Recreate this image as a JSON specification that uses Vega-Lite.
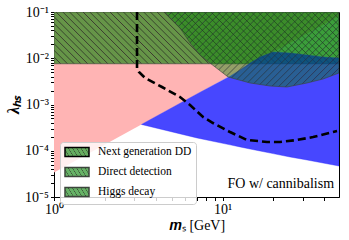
{
  "$schema": "https://vega.github.io/schema/vega-lite/v6.json",
  "width": 285,
  "height": 185,
  "autosize": {"type": "none"},
  "padding": {"left": 54, "top": 12, "right": 10, "bottom": 43},
  "background": "white",
  "config": {"view": {"stroke": "black", "strokeWidth": 1}, "font": "Liberation Serif"},
  "datasets": {
    "pink": [
      {"m": 1, "lo": 0.000034, "hi": 0.1},
      {"m": 49, "lo": 0.0816, "hi": 0.1}
    ],
    "blue": [
      {"m": 3.3, "lo": 0.00037, "hi": 0.00037},
      {"m": 7.05, "lo": 0.000189, "hi": 0.00169},
      {"m": 11.07, "lo": 0.000134, "hi": 0.0041},
      {"m": 12.68, "lo": 0.000121, "hi": 0.00557},
      {"m": 14.54, "lo": 0.000109, "hi": 0.00788},
      {"m": 16.66, "lo": 0.0000988, "hi": 0.01064},
      {"m": 19.9, "lo": 0.0000867, "hi": 0.01365},
      {"m": 25.1, "lo": 0.0000733, "hi": 0.013},
      {"m": 31.67, "lo": 0.0000631, "hi": 0.01175},
      {"m": 39.4, "lo": 0.0000543, "hi": 0.01064},
      {"m": 49, "lo": 0.0000468, "hi": 0.0101}
    ],
    "dd": [
      {"m": 4.55, "lo": 0.1, "hi": 0.1, "series": "Direct detection"},
      {"m": 4.88, "lo": 0.0742, "hi": 0.1, "series": "Direct detection"},
      {"m": 5.59, "lo": 0.0451, "hi": 0.1, "series": "Direct detection"},
      {"m": 6.41, "lo": 0.0214, "hi": 0.1, "series": "Direct detection"},
      {"m": 7.34, "lo": 0.01175, "hi": 0.1, "series": "Direct detection"},
      {"m": 8.42, "lo": 0.00788, "hi": 0.1, "series": "Direct detection"},
      {"m": 10.77, "lo": 0.00394, "hi": 0.1, "series": "Direct detection"},
      {"m": 14.54, "lo": 0.00292, "hi": 0.1, "series": "Direct detection"},
      {"m": 19.1, "lo": 0.00251, "hi": 0.1, "series": "Direct detection"},
      {"m": 24.1, "lo": 0.00239, "hi": 0.1, "series": "Direct detection"},
      {"m": 31.67, "lo": 0.00292, "hi": 0.1, "series": "Direct detection"},
      {"m": 39.4, "lo": 0.00356, "hi": 0.1, "series": "Direct detection"},
      {"m": 49, "lo": 0.0048, "hi": 0.1, "series": "Direct detection"}
    ],
    "higgs": [
      {"m": 1, "lo": 0.0076, "hi": 0.1, "series": "Higgs decay"},
      {"m": 49, "lo": 0.0076, "hi": 0.1, "series": "Higgs decay"}
    ],
    "nextdd": [
      {"i": 0, "m": 3.107, "lo": 0.1, "series": "Next generation DD"},
      {"i": 1, "m": 3.107, "lo": 0.00615, "series": "Next generation DD"},
      {"i": 2, "m": 3.19, "lo": 0.00505, "series": "Next generation DD"},
      {"i": 3, "m": 3.47, "lo": 0.00374, "series": "Next generation DD"},
      {"i": 4, "m": 4.37, "lo": 0.00239, "series": "Next generation DD"},
      {"i": 5, "m": 5.59, "lo": 0.00145, "series": "Next generation DD"},
      {"i": 6, "m": 6.41, "lo": 0.000975, "series": "Next generation DD"},
      {"i": 7, "m": 7.65, "lo": 0.000537, "series": "Next generation DD"},
      {"i": 8, "m": 8.77, "lo": 0.000398, "series": "Next generation DD"},
      {"i": 9, "m": 11.07, "lo": 0.000254, "series": "Next generation DD"},
      {"i": 10, "m": 13.95, "lo": 0.000171, "series": "Next generation DD"},
      {"i": 11, "m": 18.34, "lo": 0.000155, "series": "Next generation DD"},
      {"i": 12, "m": 21.9, "lo": 0.000155, "series": "Next generation DD"},
      {"i": 13, "m": 27.6, "lo": 0.000171, "series": "Next generation DD"},
      {"i": 14, "m": 34.4, "lo": 0.000198, "series": "Next generation DD"},
      {"i": 15, "m": 47.7, "lo": 0.000267, "series": "Next generation DD"}
    ]
  },
  "layer": [
    {
      "data": {"name": "pink"},
      "mark": {"type": "area", "fill": "#ffb4b4", "clip": true},
      "encoding": {
        "x": {
          "field": "m", "type": "quantitative",
          "scale": {"type": "log", "domain": [1, 49], "nice": false},
          "axis": {
            "values": [1, 2, 3, 4, 5, 6, 7, 8, 9, 10, 20, 30, 40],
            "labelExpr": "datum.value == 1 ? '10⁰' : datum.value == 10 ? '10¹' : ''",
            "title": "𝒎ₛ [GeV]",
            "grid": false,
            "domainColor": "black", "tickColor": "black", "labelColor": "black", "titleColor": "black",
            "labelFont": "Liberation Serif", "labelFontSize": 14,
            "titleFont": "Liberation Serif", "titleFontSize": 14, "titleFontWeight": "normal",
            "tickSize": 3.5, "labelPadding": 2, "titlePadding": 2,
            "labelOverlap": false, "labelFlush": false, "labelBound": false,
            "encode": {"ticks": {"y2": {"value": {"expr": "(datum.value == 1 || datum.value == 10) ? 3.5 : 2"}}}}
          }
        },
        "y": {
          "field": "lo", "type": "quantitative",
          "scale": {"type": "log", "domain": [0.00001, 0.1], "nice": false},
          "axis": {
            "values": [0.00001, 0.00002, 0.00003, 0.00004, 0.00005, 0.00006, 0.00007, 0.00008, 0.00009,
                       0.0001, 0.0002, 0.0003, 0.0004, 0.0005, 0.0006, 0.0007, 0.0008, 0.0009,
                       0.001, 0.002, 0.003, 0.004, 0.005, 0.006, 0.007, 0.008, 0.009,
                       0.01, 0.02, 0.03, 0.04, 0.05, 0.06, 0.07, 0.08, 0.09, 0.1],
            "labelExpr": "datum.value == 0.1 ? '10⁻¹' : datum.value == 0.01 ? '10⁻²' : datum.value == 0.001 ? '10⁻³' : datum.value == 0.0001 ? '10⁻⁴' : datum.value == 0.00001 ? '10⁻⁵' : ''",
            "title": "λₕₛ",
            "grid": false,
            "domainColor": "black", "tickColor": "black", "labelColor": "black", "titleColor": "black",
            "labelFont": "Liberation Serif", "labelFontSize": 14,
            "titleFont": "Liberation Serif", "titleFontSize": 16, "titleFontWeight": "bold", "titleFontStyle": "italic",
            "tickSize": 3.5, "labelPadding": 2, "titlePadding": 3,
            "labelOverlap": false, "labelFlush": false, "labelBound": false,
            "encode": {"ticks": {"x2": {"value": {"expr": "(datum.value == 0.1 || datum.value == 0.01 || datum.value == 0.001 || datum.value == 0.0001 || datum.value == 0.00001) ? -3.5 : -2"}}}}
          }
        },
        "y2": {"field": "hi"}
      }
    },
    {
      "data": {"name": "higgs"},
      "mark": {
        "type": "area", "strokeWidth": 0.8, "strokeOpacity": 0.8, "clip": true,
        "fill": {
          "gradient": "linear", "x1": 0, "y1": 1, "x2": 1.144, "y2": 0.792,
          "stops": [
            {"offset": 0, "color": "rgba(0,128,0,0.6)"},
            {"offset": 0.017, "color": "rgba(0,128,0,0.6)"}, {"offset": 0.02, "color": "rgba(40,45,35,0.9)"}, {"offset": 0.023, "color": "rgba(0,128,0,0.6)"},
            {"offset": 0.037, "color": "rgba(0,128,0,0.6)"}, {"offset": 0.04, "color": "rgba(40,45,35,0.9)"}, {"offset": 0.043, "color": "rgba(0,128,0,0.6)"},
            {"offset": 0.057, "color": "rgba(0,128,0,0.6)"}, {"offset": 0.06, "color": "rgba(40,45,35,0.9)"}, {"offset": 0.063, "color": "rgba(0,128,0,0.6)"},
            {"offset": 0.077, "color": "rgba(0,128,0,0.6)"}, {"offset": 0.08, "color": "rgba(40,45,35,0.9)"}, {"offset": 0.083, "color": "rgba(0,128,0,0.6)"},
            {"offset": 0.097, "color": "rgba(0,128,0,0.6)"}, {"offset": 0.1, "color": "rgba(40,45,35,0.9)"}, {"offset": 0.103, "color": "rgba(0,128,0,0.6)"},
            {"offset": 0.117, "color": "rgba(0,128,0,0.6)"}, {"offset": 0.12, "color": "rgba(40,45,35,0.9)"}, {"offset": 0.123, "color": "rgba(0,128,0,0.6)"},
            {"offset": 0.137, "color": "rgba(0,128,0,0.6)"}, {"offset": 0.14, "color": "rgba(40,45,35,0.9)"}, {"offset": 0.143, "color": "rgba(0,128,0,0.6)"},
            {"offset": 0.157, "color": "rgba(0,128,0,0.6)"}, {"offset": 0.16, "color": "rgba(40,45,35,0.9)"}, {"offset": 0.163, "color": "rgba(0,128,0,0.6)"},
            {"offset": 0.177, "color": "rgba(0,128,0,0.6)"}, {"offset": 0.18, "color": "rgba(40,45,35,0.9)"}, {"offset": 0.183, "color": "rgba(0,128,0,0.6)"},
            {"offset": 0.197, "color": "rgba(0,128,0,0.6)"}, {"offset": 0.2, "color": "rgba(40,45,35,0.9)"}, {"offset": 0.203, "color": "rgba(0,128,0,0.6)"},
            {"offset": 0.217, "color": "rgba(0,128,0,0.6)"}, {"offset": 0.22, "color": "rgba(40,45,35,0.9)"}, {"offset": 0.223, "color": "rgba(0,128,0,0.6)"},
            {"offset": 0.237, "color": "rgba(0,128,0,0.6)"}, {"offset": 0.24, "color": "rgba(40,45,35,0.9)"}, {"offset": 0.243, "color": "rgba(0,128,0,0.6)"},
            {"offset": 0.257, "color": "rgba(0,128,0,0.6)"}, {"offset": 0.26, "color": "rgba(40,45,35,0.9)"}, {"offset": 0.263, "color": "rgba(0,128,0,0.6)"},
            {"offset": 0.277, "color": "rgba(0,128,0,0.6)"}, {"offset": 0.28, "color": "rgba(40,45,35,0.9)"}, {"offset": 0.283, "color": "rgba(0,128,0,0.6)"},
            {"offset": 0.297, "color": "rgba(0,128,0,0.6)"}, {"offset": 0.3, "color": "rgba(40,45,35,0.9)"}, {"offset": 0.303, "color": "rgba(0,128,0,0.6)"},
            {"offset": 0.317, "color": "rgba(0,128,0,0.6)"}, {"offset": 0.32, "color": "rgba(40,45,35,0.9)"}, {"offset": 0.323, "color": "rgba(0,128,0,0.6)"},
            {"offset": 0.337, "color": "rgba(0,128,0,0.6)"}, {"offset": 0.34, "color": "rgba(40,45,35,0.9)"}, {"offset": 0.343, "color": "rgba(0,128,0,0.6)"},
            {"offset": 0.357, "color": "rgba(0,128,0,0.6)"}, {"offset": 0.36, "color": "rgba(40,45,35,0.9)"}, {"offset": 0.363, "color": "rgba(0,128,0,0.6)"},
            {"offset": 0.377, "color": "rgba(0,128,0,0.6)"}, {"offset": 0.38, "color": "rgba(40,45,35,0.9)"}, {"offset": 0.383, "color": "rgba(0,128,0,0.6)"},
            {"offset": 0.397, "color": "rgba(0,128,0,0.6)"}, {"offset": 0.4, "color": "rgba(40,45,35,0.9)"}, {"offset": 0.403, "color": "rgba(0,128,0,0.6)"},
            {"offset": 0.417, "color": "rgba(0,128,0,0.6)"}, {"offset": 0.42, "color": "rgba(40,45,35,0.9)"}, {"offset": 0.423, "color": "rgba(0,128,0,0.6)"},
            {"offset": 0.437, "color": "rgba(0,128,0,0.6)"}, {"offset": 0.44, "color": "rgba(40,45,35,0.9)"}, {"offset": 0.443, "color": "rgba(0,128,0,0.6)"},
            {"offset": 0.457, "color": "rgba(0,128,0,0.6)"}, {"offset": 0.46, "color": "rgba(40,45,35,0.9)"}, {"offset": 0.463, "color": "rgba(0,128,0,0.6)"},
            {"offset": 0.477, "color": "rgba(0,128,0,0.6)"}, {"offset": 0.48, "color": "rgba(40,45,35,0.9)"}, {"offset": 0.483, "color": "rgba(0,128,0,0.6)"},
            {"offset": 0.497, "color": "rgba(0,128,0,0.6)"}, {"offset": 0.5, "color": "rgba(40,45,35,0.9)"}, {"offset": 0.503, "color": "rgba(0,128,0,0.6)"},
            {"offset": 0.517, "color": "rgba(0,128,0,0.6)"}, {"offset": 0.52, "color": "rgba(40,45,35,0.9)"}, {"offset": 0.523, "color": "rgba(0,128,0,0.6)"},
            {"offset": 0.537, "color": "rgba(0,128,0,0.6)"}, {"offset": 0.54, "color": "rgba(40,45,35,0.9)"}, {"offset": 0.543, "color": "rgba(0,128,0,0.6)"},
            {"offset": 0.557, "color": "rgba(0,128,0,0.6)"}, {"offset": 0.56, "color": "rgba(40,45,35,0.9)"}, {"offset": 0.563, "color": "rgba(0,128,0,0.6)"},
            {"offset": 0.577, "color": "rgba(0,128,0,0.6)"}, {"offset": 0.58, "color": "rgba(40,45,35,0.9)"}, {"offset": 0.583, "color": "rgba(0,128,0,0.6)"},
            {"offset": 0.597, "color": "rgba(0,128,0,0.6)"}, {"offset": 0.6, "color": "rgba(40,45,35,0.9)"}, {"offset": 0.603, "color": "rgba(0,128,0,0.6)"},
            {"offset": 0.617, "color": "rgba(0,128,0,0.6)"}, {"offset": 0.62, "color": "rgba(40,45,35,0.9)"}, {"offset": 0.623, "color": "rgba(0,128,0,0.6)"},
            {"offset": 0.637, "color": "rgba(0,128,0,0.6)"}, {"offset": 0.64, "color": "rgba(40,45,35,0.9)"}, {"offset": 0.643, "color": "rgba(0,128,0,0.6)"},
            {"offset": 0.657, "color": "rgba(0,128,0,0.6)"}, {"offset": 0.66, "color": "rgba(40,45,35,0.9)"}, {"offset": 0.663, "color": "rgba(0,128,0,0.6)"},
            {"offset": 0.677, "color": "rgba(0,128,0,0.6)"}, {"offset": 0.68, "color": "rgba(40,45,35,0.9)"}, {"offset": 0.683, "color": "rgba(0,128,0,0.6)"},
            {"offset": 0.697, "color": "rgba(0,128,0,0.6)"}, {"offset": 0.7, "color": "rgba(40,45,35,0.9)"}, {"offset": 0.703, "color": "rgba(0,128,0,0.6)"},
            {"offset": 0.717, "color": "rgba(0,128,0,0.6)"}, {"offset": 0.72, "color": "rgba(40,45,35,0.9)"}, {"offset": 0.723, "color": "rgba(0,128,0,0.6)"},
            {"offset": 0.737, "color": "rgba(0,128,0,0.6)"}, {"offset": 0.74, "color": "rgba(40,45,35,0.9)"}, {"offset": 0.743, "color": "rgba(0,128,0,0.6)"},
            {"offset": 0.757, "color": "rgba(0,128,0,0.6)"}, {"offset": 0.76, "color": "rgba(40,45,35,0.9)"}, {"offset": 0.763, "color": "rgba(0,128,0,0.6)"},
            {"offset": 0.777, "color": "rgba(0,128,0,0.6)"}, {"offset": 0.78, "color": "rgba(40,45,35,0.9)"}, {"offset": 0.783, "color": "rgba(0,128,0,0.6)"},
            {"offset": 0.797, "color": "rgba(0,128,0,0.6)"}, {"offset": 0.8, "color": "rgba(40,45,35,0.9)"}, {"offset": 0.803, "color": "rgba(0,128,0,0.6)"},
            {"offset": 0.817, "color": "rgba(0,128,0,0.6)"}, {"offset": 0.82, "color": "rgba(40,45,35,0.9)"}, {"offset": 0.823, "color": "rgba(0,128,0,0.6)"},
            {"offset": 0.837, "color": "rgba(0,128,0,0.6)"}, {"offset": 0.84, "color": "rgba(40,45,35,0.9)"}, {"offset": 0.843, "color": "rgba(0,128,0,0.6)"},
            {"offset": 0.857, "color": "rgba(0,128,0,0.6)"}, {"offset": 0.86, "color": "rgba(40,45,35,0.9)"}, {"offset": 0.863, "color": "rgba(0,128,0,0.6)"},
            {"offset": 0.877, "color": "rgba(0,128,0,0.6)"}, {"offset": 0.88, "color": "rgba(40,45,35,0.9)"}, {"offset": 0.883, "color": "rgba(0,128,0,0.6)"},
            {"offset": 0.897, "color": "rgba(0,128,0,0.6)"}, {"offset": 0.9, "color": "rgba(40,45,35,0.9)"}, {"offset": 0.903, "color": "rgba(0,128,0,0.6)"},
            {"offset": 0.917, "color": "rgba(0,128,0,0.6)"}, {"offset": 0.92, "color": "rgba(40,45,35,0.9)"}, {"offset": 0.923, "color": "rgba(0,128,0,0.6)"},
            {"offset": 0.937, "color": "rgba(0,128,0,0.6)"}, {"offset": 0.94, "color": "rgba(40,45,35,0.9)"}, {"offset": 0.943, "color": "rgba(0,128,0,0.6)"},
            {"offset": 0.957, "color": "rgba(0,128,0,0.6)"}, {"offset": 0.96, "color": "rgba(40,45,35,0.9)"}, {"offset": 0.963, "color": "rgba(0,128,0,0.6)"},
            {"offset": 0.977, "color": "rgba(0,128,0,0.6)"}, {"offset": 0.98, "color": "rgba(40,45,35,0.9)"}, {"offset": 0.983, "color": "rgba(0,128,0,0.6)"},
            {"offset": 1, "color": "rgba(0,128,0,0.6)"}
          ]
        }
      },
      "encoding": {
        "x": {"field": "m", "type": "quantitative", "scale": {"type": "log", "domain": [1, 49], "nice": false}},
        "y": {"field": "lo", "type": "quantitative", "scale": {"type": "log", "domain": [0.00001, 0.1], "nice": false}},
        "y2": {"field": "hi"},
        "stroke": {
          "field": "series", "type": "nominal",
          "scale": {"domain": ["Next generation DD", "Direct detection", "Higgs decay"], "range": ["black", "#3c463c", "#3c463c"]},
          "legend": {
            "orient": "none", "legendX": 6, "legendY": 130, "direction": "vertical",
            "title": null, "padding": 4,
            "fillColor": "rgba(255,255,255,0.8)", "strokeColor": "#cccccc", "cornerRadius": 3,
            "labelFont": "Liberation Serif", "labelFontSize": 11.5, "labelColor": "black",
            "symbolSize": 100, "rowPadding": 4, "labelOffset": 22,
            "symbolType": "M-1,-0.9H3.8V0.9H-1Z",
            "encode": {
              "symbols": {
                "shape": {"value": {"expr": "datum.index == 0 ? 'M-1,0H3.8' : 'M-1,-0.9H3.8V0.9H-1Z'"}},
                "fill": {"value": {"expr": "datum.index == 0 ? 'transparent' : 'rgba(0,128,0,0.55)'"}},
                "stroke": {"value": {"expr": "datum.index == 0 ? 'black' : '#555555'"}},
                "strokeWidth": {"value": {"expr": "datum.index == 0 ? 2.6 : 1"}},
                "strokeDash": {"value": {"expr": "datum.index == 0 ? [6,3] : [1,0]"}},
                "size": {"value": 100},
                "opacity": {"value": 1}
              }
            }
          }
        }
      }
    },
    {
      "data": {"name": "blue"},
      "mark": {"type": "area", "fill": "#0000ff", "fillOpacity": 0.72, "stroke": "#2020ff", "strokeOpacity": 0.6, "strokeWidth": 0.6, "clip": true},
      "encoding": {
        "x": {"field": "m", "type": "quantitative", "scale": {"type": "log", "domain": [1, 49], "nice": false}},
        "y": {"field": "lo", "type": "quantitative", "scale": {"type": "log", "domain": [0.00001, 0.1], "nice": false}},
        "y2": {"field": "hi"}
      }
    },
    {
      "data": {"name": "dd"},
      "mark": {
        "type": "area", "strokeWidth": 0.8, "strokeOpacity": 0.8, "clip": true,
        "fill": {
          "gradient": "linear", "x1": 0, "y1": 0, "x2": 1.2068, "y2": 0.5202,
          "stops": [
            {"offset": 0, "color": "rgba(0,128,0,0.42)"},
            {"offset": 0.024, "color": "rgba(0,128,0,0.42)"}, {"offset": 0.028, "color": "rgba(40,45,55,0.8)"}, {"offset": 0.032, "color": "rgba(0,128,0,0.42)"},
            {"offset": 0.052, "color": "rgba(0,128,0,0.42)"}, {"offset": 0.056, "color": "rgba(40,45,55,0.8)"}, {"offset": 0.06, "color": "rgba(0,128,0,0.42)"},
            {"offset": 0.08, "color": "rgba(0,128,0,0.42)"}, {"offset": 0.084, "color": "rgba(40,45,55,0.8)"}, {"offset": 0.088, "color": "rgba(0,128,0,0.42)"},
            {"offset": 0.108, "color": "rgba(0,128,0,0.42)"}, {"offset": 0.112, "color": "rgba(40,45,55,0.8)"}, {"offset": 0.116, "color": "rgba(0,128,0,0.42)"},
            {"offset": 0.136, "color": "rgba(0,128,0,0.42)"}, {"offset": 0.14, "color": "rgba(40,45,55,0.8)"}, {"offset": 0.144, "color": "rgba(0,128,0,0.42)"},
            {"offset": 0.164, "color": "rgba(0,128,0,0.42)"}, {"offset": 0.168, "color": "rgba(40,45,55,0.8)"}, {"offset": 0.172, "color": "rgba(0,128,0,0.42)"},
            {"offset": 0.192, "color": "rgba(0,128,0,0.42)"}, {"offset": 0.196, "color": "rgba(40,45,55,0.8)"}, {"offset": 0.2, "color": "rgba(0,128,0,0.42)"},
            {"offset": 0.22, "color": "rgba(0,128,0,0.42)"}, {"offset": 0.224, "color": "rgba(40,45,55,0.8)"}, {"offset": 0.228, "color": "rgba(0,128,0,0.42)"},
            {"offset": 0.248, "color": "rgba(0,128,0,0.42)"}, {"offset": 0.252, "color": "rgba(40,45,55,0.8)"}, {"offset": 0.256, "color": "rgba(0,128,0,0.42)"},
            {"offset": 0.276, "color": "rgba(0,128,0,0.42)"}, {"offset": 0.28, "color": "rgba(40,45,55,0.8)"}, {"offset": 0.284, "color": "rgba(0,128,0,0.42)"},
            {"offset": 0.304, "color": "rgba(0,128,0,0.42)"}, {"offset": 0.308, "color": "rgba(40,45,55,0.8)"}, {"offset": 0.312, "color": "rgba(0,128,0,0.42)"},
            {"offset": 0.332, "color": "rgba(0,128,0,0.42)"}, {"offset": 0.336, "color": "rgba(40,45,55,0.8)"}, {"offset": 0.34, "color": "rgba(0,128,0,0.42)"},
            {"offset": 0.36, "color": "rgba(0,128,0,0.42)"}, {"offset": 0.364, "color": "rgba(40,45,55,0.8)"}, {"offset": 0.368, "color": "rgba(0,128,0,0.42)"},
            {"offset": 0.388, "color": "rgba(0,128,0,0.42)"}, {"offset": 0.392, "color": "rgba(40,45,55,0.8)"}, {"offset": 0.396, "color": "rgba(0,128,0,0.42)"},
            {"offset": 0.416, "color": "rgba(0,128,0,0.42)"}, {"offset": 0.42, "color": "rgba(40,45,55,0.8)"}, {"offset": 0.424, "color": "rgba(0,128,0,0.42)"},
            {"offset": 0.444, "color": "rgba(0,128,0,0.42)"}, {"offset": 0.448, "color": "rgba(40,45,55,0.8)"}, {"offset": 0.452, "color": "rgba(0,128,0,0.42)"},
            {"offset": 0.472, "color": "rgba(0,128,0,0.42)"}, {"offset": 0.476, "color": "rgba(40,45,55,0.8)"}, {"offset": 0.48, "color": "rgba(0,128,0,0.42)"},
            {"offset": 0.5, "color": "rgba(0,128,0,0.42)"}, {"offset": 0.504, "color": "rgba(40,45,55,0.8)"}, {"offset": 0.508, "color": "rgba(0,128,0,0.42)"},
            {"offset": 0.528, "color": "rgba(0,128,0,0.42)"}, {"offset": 0.532, "color": "rgba(40,45,55,0.8)"}, {"offset": 0.536, "color": "rgba(0,128,0,0.42)"},
            {"offset": 0.556, "color": "rgba(0,128,0,0.42)"}, {"offset": 0.56, "color": "rgba(40,45,55,0.8)"}, {"offset": 0.564, "color": "rgba(0,128,0,0.42)"},
            {"offset": 0.584, "color": "rgba(0,128,0,0.42)"}, {"offset": 0.588, "color": "rgba(40,45,55,0.8)"}, {"offset": 0.592, "color": "rgba(0,128,0,0.42)"},
            {"offset": 0.612, "color": "rgba(0,128,0,0.42)"}, {"offset": 0.616, "color": "rgba(40,45,55,0.8)"}, {"offset": 0.62, "color": "rgba(0,128,0,0.42)"},
            {"offset": 0.64, "color": "rgba(0,128,0,0.42)"}, {"offset": 0.644, "color": "rgba(40,45,55,0.8)"}, {"offset": 0.648, "color": "rgba(0,128,0,0.42)"},
            {"offset": 0.668, "color": "rgba(0,128,0,0.42)"}, {"offset": 0.672, "color": "rgba(40,45,55,0.8)"}, {"offset": 0.676, "color": "rgba(0,128,0,0.42)"},
            {"offset": 0.696, "color": "rgba(0,128,0,0.42)"}, {"offset": 0.7, "color": "rgba(40,45,55,0.8)"}, {"offset": 0.704, "color": "rgba(0,128,0,0.42)"},
            {"offset": 0.724, "color": "rgba(0,128,0,0.42)"}, {"offset": 0.728, "color": "rgba(40,45,55,0.8)"}, {"offset": 0.732, "color": "rgba(0,128,0,0.42)"},
            {"offset": 0.752, "color": "rgba(0,128,0,0.42)"}, {"offset": 0.756, "color": "rgba(40,45,55,0.8)"}, {"offset": 0.76, "color": "rgba(0,128,0,0.42)"},
            {"offset": 0.78, "color": "rgba(0,128,0,0.42)"}, {"offset": 0.784, "color": "rgba(40,45,55,0.8)"}, {"offset": 0.788, "color": "rgba(0,128,0,0.42)"},
            {"offset": 0.808, "color": "rgba(0,128,0,0.42)"}, {"offset": 0.812, "color": "rgba(40,45,55,0.8)"}, {"offset": 0.816, "color": "rgba(0,128,0,0.42)"},
            {"offset": 0.836, "color": "rgba(0,128,0,0.42)"}, {"offset": 0.84, "color": "rgba(40,45,55,0.8)"}, {"offset": 0.844, "color": "rgba(0,128,0,0.42)"},
            {"offset": 0.864, "color": "rgba(0,128,0,0.42)"}, {"offset": 0.868, "color": "rgba(40,45,55,0.8)"}, {"offset": 0.872, "color": "rgba(0,128,0,0.42)"},
            {"offset": 0.892, "color": "rgba(0,128,0,0.42)"}, {"offset": 0.896, "color": "rgba(40,45,55,0.8)"}, {"offset": 0.9, "color": "rgba(0,128,0,0.42)"},
            {"offset": 0.92, "color": "rgba(0,128,0,0.42)"}, {"offset": 0.924, "color": "rgba(40,45,55,0.8)"}, {"offset": 0.928, "color": "rgba(0,128,0,0.42)"},
            {"offset": 0.948, "color": "rgba(0,128,0,0.42)"}, {"offset": 0.952, "color": "rgba(40,45,55,0.8)"}, {"offset": 0.956, "color": "rgba(0,128,0,0.42)"},
            {"offset": 0.976, "color": "rgba(0,128,0,0.42)"}, {"offset": 0.98, "color": "rgba(40,45,55,0.8)"}, {"offset": 0.984, "color": "rgba(0,128,0,0.42)"},
            {"offset": 1, "color": "rgba(0,128,0,0.42)"}
          ]
        }
      },
      "encoding": {
        "x": {"field": "m", "type": "quantitative", "scale": {"type": "log", "domain": [1, 49], "nice": false}},
        "y": {"field": "lo", "type": "quantitative", "scale": {"type": "log", "domain": [0.00001, 0.1], "nice": false}},
        "y2": {"field": "hi"},
        "stroke": {
          "field": "series", "type": "nominal",
          "scale": {"domain": ["Next generation DD", "Direct detection", "Higgs decay"], "range": ["black", "#3c463c", "#3c463c"]},
          "legend": null
        }
      }
    },
    {
      "data": {"name": "nextdd"},
      "mark": {"type": "line", "strokeDash": [8, 4], "strokeWidth": 2.6, "clip": true},
      "encoding": {
        "x": {"field": "m", "type": "quantitative", "scale": {"type": "log", "domain": [1, 49], "nice": false}},
        "y": {"field": "lo", "type": "quantitative", "scale": {"type": "log", "domain": [0.00001, 0.1], "nice": false}},
        "order": {"field": "i", "type": "quantitative"},
        "stroke": {
          "field": "series", "type": "nominal",
          "scale": {"domain": ["Next generation DD", "Direct detection", "Higgs decay"], "range": ["black", "#3c463c", "#3c463c"]},
          "legend": null
        }
      }
    },
    {
      "data": {"values": [{"label": "FO w/ cannibalism"}]},
      "mark": {"type": "text", "align": "right", "baseline": "alphabetic", "font": "Liberation Serif", "fontSize": 14, "color": "black"},
      "encoding": {
        "x": {"datum": 45.8, "type": "quantitative"},
        "y": {"datum": 0.0000157, "type": "quantitative"},
        "text": {"field": "label", "type": "nominal"}
      }
    }
  ]
}
